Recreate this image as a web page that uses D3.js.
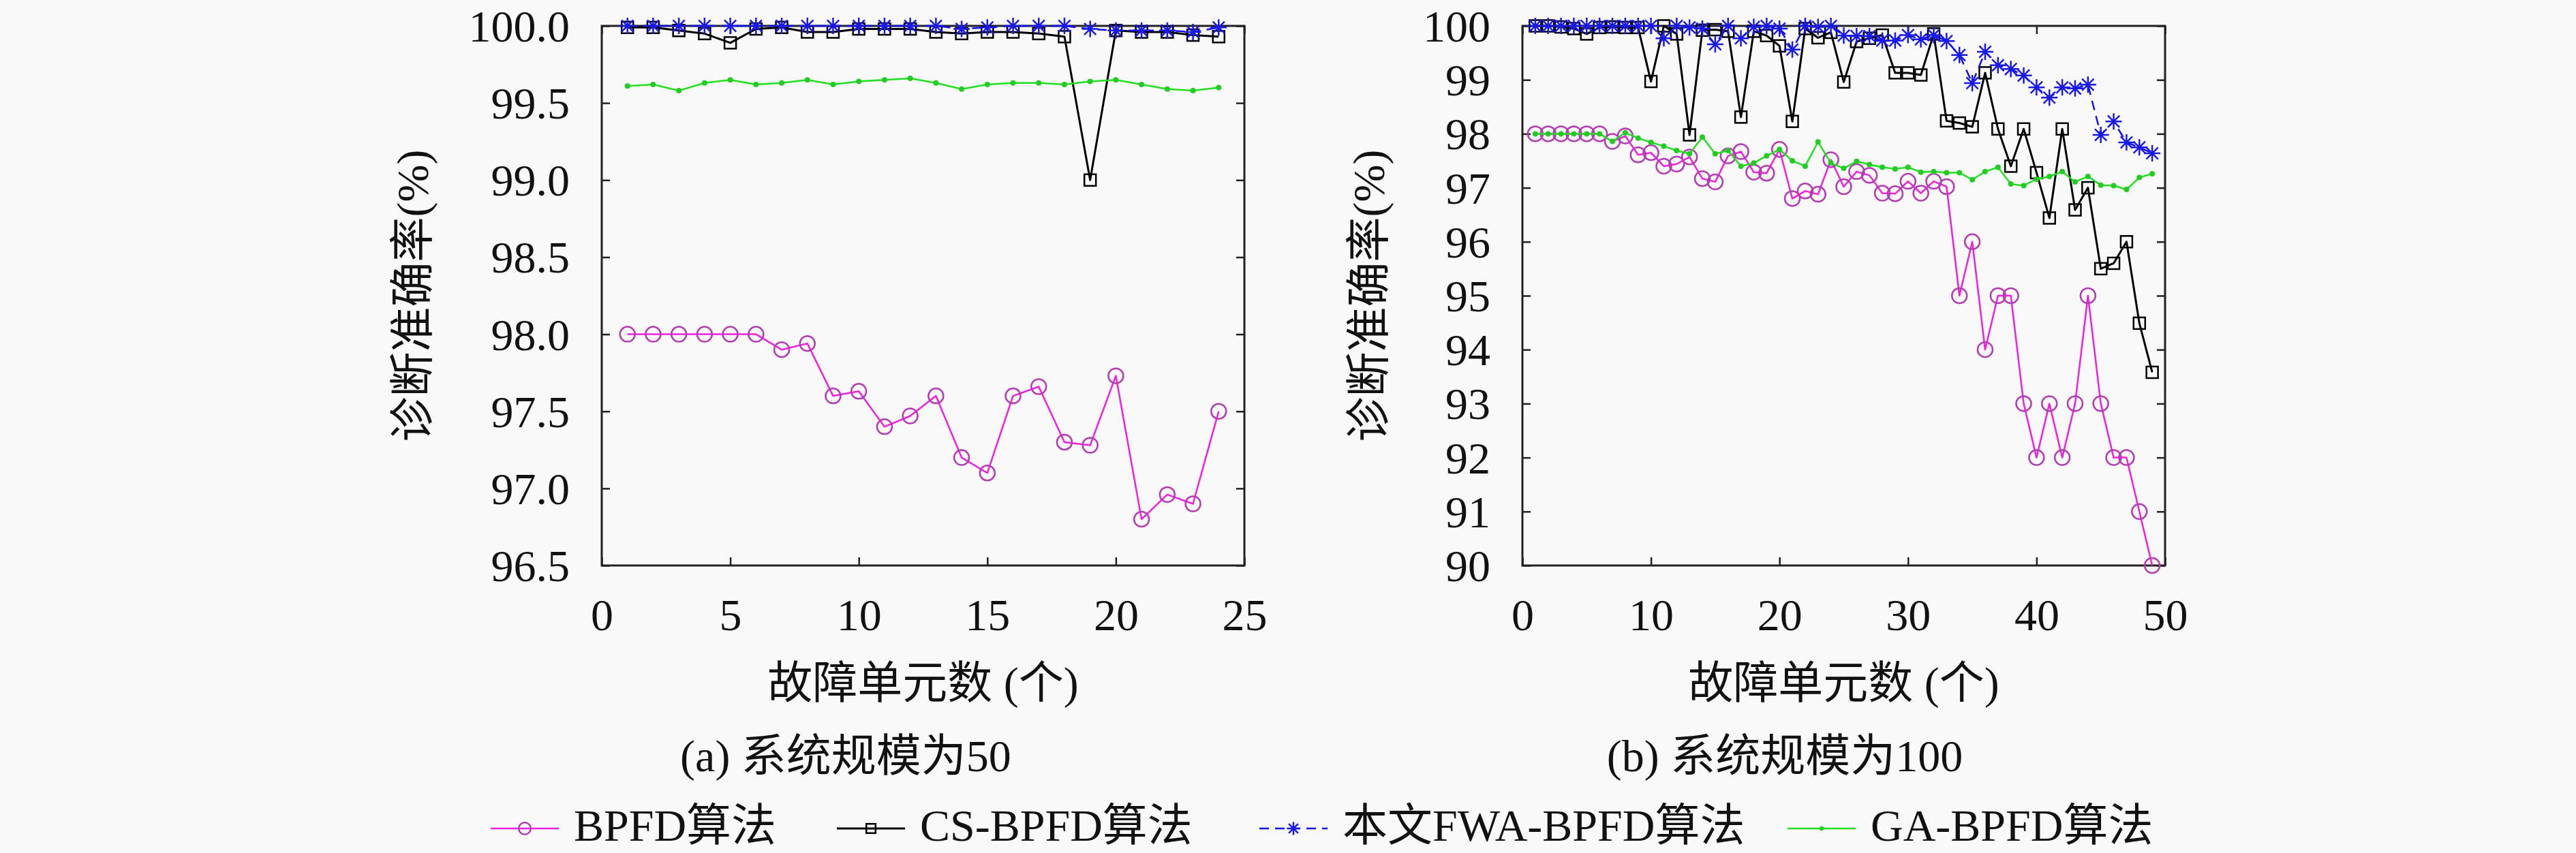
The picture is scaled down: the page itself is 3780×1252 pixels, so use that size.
<!DOCTYPE html>
<html>
<head>
<meta charset="utf-8">
<script src="https://cdn.jsdelivr.net/npm/d3@7"></script>
<style>
  body { margin: 0; background: #f9f9f9; }
  text { font-family: "Liberation Serif", "Noto Sans CJK SC", serif; fill: #111; }
</style>
</head>
<body>
<svg id="chart"></svg>
<script>
// ---- data: (a) system size 50 ----
var faultsA = [1,2,3,4,5,6,7,8,9,10,11,12,13,14,15,16,17,18,19,20,21,22,23,24];
var bpfdA = [98.0,98.0,98.0,98.0,98.0,98.0,97.9,97.94,97.6,97.63,97.4,97.47,97.6,97.2,97.1,97.6,97.66,97.3,97.28,97.73,96.8,96.96,96.9,97.5];
var csA   = [99.99,99.99,99.97,99.95,99.89,99.98,99.99,99.96,99.96,99.98,99.98,99.98,99.96,99.95,99.96,99.96,99.95,99.93,99.0,99.97,99.96,99.96,99.94,99.93];
var fwaA  = [100,100,100,100,100,100,100,100,100,100,100,100,100,99.98,99.99,100,100,100,99.98,99.97,99.97,99.97,99.96,99.99];
var gaA   = [99.61,99.62,99.58,99.63,99.65,99.62,99.63,99.65,99.62,99.64,99.65,99.66,99.63,99.59,99.62,99.63,99.63,99.62,99.64,99.65,99.62,99.59,99.58,99.6];

// ---- data: (b) system size 100 ----
var faultsB = [1,2,3,4,5,6,7,8,9,10,11,12,13,14,15,16,17,18,19,20,21,22,23,24,25,26,27,28,29,30,31,32,33,34,35,36,37,38,39,40,41,42,43,44,45,46,47,48,49];
var bpfdB = [98.0,98.0,98.0,98.0,98.0,98.0,97.86,97.96,97.61,97.65,
             97.4,97.44,97.57,97.17,97.11,97.59,97.67,97.29,97.27,97.71,
             96.8,96.94,96.88,97.52,97.02,97.3,97.23,96.9,96.89,97.12,
             96.9,97.12,97.02,95.0,96.0,94.0,95.0,95.0,93.0,92.0,
             93.0,92.0,93.0,95.0,93.0,92.0,92.0,91.0,90.0];
var csB   = [100.0,100.0,99.98,99.95,99.85,99.97,99.98,99.97,99.97,98.97,
             100.0,99.85,97.98,99.92,99.93,99.9,98.31,99.9,99.82,99.63,
             98.23,99.95,99.78,99.88,98.96,99.71,99.77,99.83,99.13,99.13,
             99.09,99.85,98.24,98.2,98.13,99.13,98.09,97.4,98.09,97.28,
             96.44,98.09,96.59,97.0,95.5,95.6,96.0,94.49,93.58];
var fwaB  = [100,100,100,100,100,100,100,100,100,100,
             99.77,100,99.97,99.95,99.66,100,99.77,99.98,100,99.95,
             99.56,100,99.98,100,99.82,99.81,99.81,99.73,99.73,99.83,
             99.75,99.83,99.72,99.46,98.94,99.52,99.27,99.2,99.08,98.86,
             98.67,98.86,98.84,98.91,97.98,98.23,97.84,97.75,97.64];
var gaB   = [98.0,98.0,98.0,98.0,98.0,98.0,97.86,98.02,97.92,97.84,
             97.77,97.69,97.63,97.94,97.63,97.69,97.4,97.46,97.59,97.71,
             97.5,97.4,97.85,97.46,97.36,97.49,97.43,97.38,97.35,97.38,
             97.29,97.3,97.28,97.28,97.15,97.3,97.38,97.07,97.04,97.16,
             97.21,97.3,97.11,97.21,97.05,97.04,96.97,97.19,97.26];

// ---- ticks and labels ----
var xTicksA = [0,5,10,15,20,25];
var yTicksA = [96.5,97.0,97.5,98.0,98.5,99.0,99.5,100.0];
var xTicksB = [0,10,20,30,40,50];
var yTicksB = [90,91,92,93,94,95,96,97,98,99,100];
var seriesNames = ["BPFD算法", "CS-BPFD算法", "本文FWA-BPFD算法", "GA-BPFD算法"];
var captions = ["(a) 系统规模为50", "(b) 系统规模为100"];
var xTitle = "故障单元数 (个)";
var yTitle = "诊断准确率(%)";

// ---- layout ----
var W = 3780, H = 1252, fontSize = 66;
var svg = d3.select("#chart").attr("width", W).attr("height", H);
svg.append("rect").attr("width", W).attr("height", H).attr("fill", "#f9f9f9");

var styles = [
  {line: "#f020e0", width: 2.5, dash: null, marker: "circle", mcolor: "#b43cb4"},
  {line: "#000000", width: 3, dash: null, marker: "square", mcolor: "#000000"},
  {line: "#1010f0", width: 2.5, dash: "14,9", marker: "star", mcolor: "#1a1ae8"},
  {line: "#20e020", width: 2.5, dash: null, marker: "dot", mcolor: "#22cc22"}
];

function drawMarker(g, kind, color, x, y, s) {
  s = s || 1;
  if (kind === "circle") {
    g.append("circle").attr("cx", x).attr("cy", y).attr("r", 11 * s)
      .attr("fill", "none").attr("stroke", color).attr("stroke-width", 2.5);
  } else if (kind === "square") {
    var h = 8.5 * s;
    g.append("rect").attr("x", x - h).attr("y", y - h).attr("width", 2 * h).attr("height", 2 * h)
      .attr("fill", "none").attr("stroke", color).attr("stroke-width", 2.5);
  } else if (kind === "star") {
    var r = 12 * s, d = r * 0.72;
    g.append("path")
      .attr("d", "M" + (x - r) + "," + y + "H" + (x + r) +
                 "M" + x + "," + (y - r) + "V" + (y + r) +
                 "M" + (x - d) + "," + (y - d) + "L" + (x + d) + "," + (y + d) +
                 "M" + (x - d) + "," + (y + d) + "L" + (x + d) + "," + (y - d))
      .attr("stroke", color).attr("stroke-width", 2.5).attr("fill", "none");
  } else {
    g.append("circle").attr("cx", x).attr("cy", y).attr("r", 4 * s).attr("fill", color);
  }
}

function drawPanel(p) {
  var x = d3.scaleLinear().domain(p.xDomain).range([p.left, p.right]);
  var y = d3.scaleLinear().domain(p.yDomain).range([p.bottom, p.top]);
  var g = svg.append("g");

  // axes: inward ticks on all four sides
  g.append("g").attr("transform", "translate(0," + p.bottom + ")")
    .call(d3.axisBottom(x).tickValues(p.xTicks).tickSize(-12).tickSizeOuter(0).tickPadding(48));
  var left = g.append("g").attr("transform", "translate(" + p.left + ",0)")
    .call(d3.axisLeft(y).tickValues(p.yTicks).tickFormat(p.yFormat).tickSize(-12).tickSizeOuter(0).tickPadding(47));
  g.append("g").attr("transform", "translate(0," + p.top + ")")
    .call(d3.axisTop(x).tickValues(p.xTicks).tickFormat("").tickSize(-12).tickSizeOuter(0));
  g.append("g").attr("transform", "translate(" + p.right + ",0)")
    .call(d3.axisRight(y).tickValues(p.yTicks).tickFormat("").tickSize(-12).tickSizeOuter(0));

  g.selectAll(".domain").remove();
  g.selectAll(".tick line").attr("stroke", "#222").attr("stroke-width", 2.5);
  g.selectAll(".tick text").attr("font-family", "Liberation Serif, serif")
    .attr("font-size", fontSize).attr("fill", "#111");
  left.selectAll(".tick text").attr("dy", "0.34em");

  g.append("rect").attr("x", p.left).attr("y", p.top)
    .attr("width", p.right - p.left).attr("height", p.bottom - p.top)
    .attr("fill", "none").attr("stroke", "#222").attr("stroke-width", 3);

  // series
  p.series.forEach(function(vals, i) {
    var st = styles[i];
    var pts = p.xs.map(function(d, j) { return [d, vals[j]]; });
    var line = d3.line().x(function(d) { return x(d[0]); }).y(function(d) { return y(d[1]); });
    g.append("path").datum(pts).attr("d", line)
      .attr("fill", "none").attr("stroke", st.line).attr("stroke-width", st.width)
      .attr("stroke-dasharray", st.dash).attr("stroke-linejoin", "round");
    var mg = g.append("g");
    pts.forEach(function(d) { drawMarker(mg, st.marker, st.mcolor, x(d[0]), y(d[1])); });
  });

  // titles
  g.append("text").attr("x", (p.left + p.right) / 2).attr("y", 1025)
    .attr("text-anchor", "middle").attr("font-size", fontSize).text(xTitle);
  g.append("text").attr("transform", "translate(" + p.ylabelX + "," + (p.top + p.bottom) / 2 + ") rotate(-90)")
    .attr("text-anchor", "middle").attr("dominant-baseline", "central")
    .attr("font-size", fontSize).text(yTitle);
  g.append("text").attr("x", p.captionX).attr("y", 1132)
    .attr("text-anchor", "middle").attr("font-size", fontSize).text(p.caption);
}

drawPanel({
  left: 883, right: 1826, top: 38, bottom: 830,
  xDomain: [0, 25], yDomain: [96.5, 100],
  xTicks: xTicksA, yTicks: yTicksA, yFormat: d3.format(".1f"),
  xs: faultsA, series: [bpfdA, csA, fwaA, gaA],
  ylabelX: 605, caption: captions[0], captionX: 1241
});

drawPanel({
  left: 2234, right: 3177, top: 38, bottom: 830,
  xDomain: [0, 50], yDomain: [90, 100],
  xTicks: xTicksB, yTicks: yTicksB, yFormat: d3.format("d"),
  xs: faultsB, series: [bpfdB, csB, fwaB, gaB],
  ylabelX: 2008, caption: captions[1], captionX: 2619
});

// legend
var legendX = [720, 1228, 1848, 2623];
var lg = svg.append("g");
seriesNames.forEach(function(name, i) {
  var st = styles[i], x0 = legendX[i];
  lg.append("line").attr("x1", x0).attr("x2", x0 + 100).attr("y1", 1216).attr("y2", 1216)
    .attr("stroke", st.line).attr("stroke-width", st.width).attr("stroke-dasharray", st.dash);
  drawMarker(lg, st.marker, st.mcolor, x0 + 50, 1216, 0.8);
  lg.append("text").attr("x", x0 + 122).attr("y", 1234)
    .attr("font-size", fontSize).text(name);
});
</script>
</body>
</html>
